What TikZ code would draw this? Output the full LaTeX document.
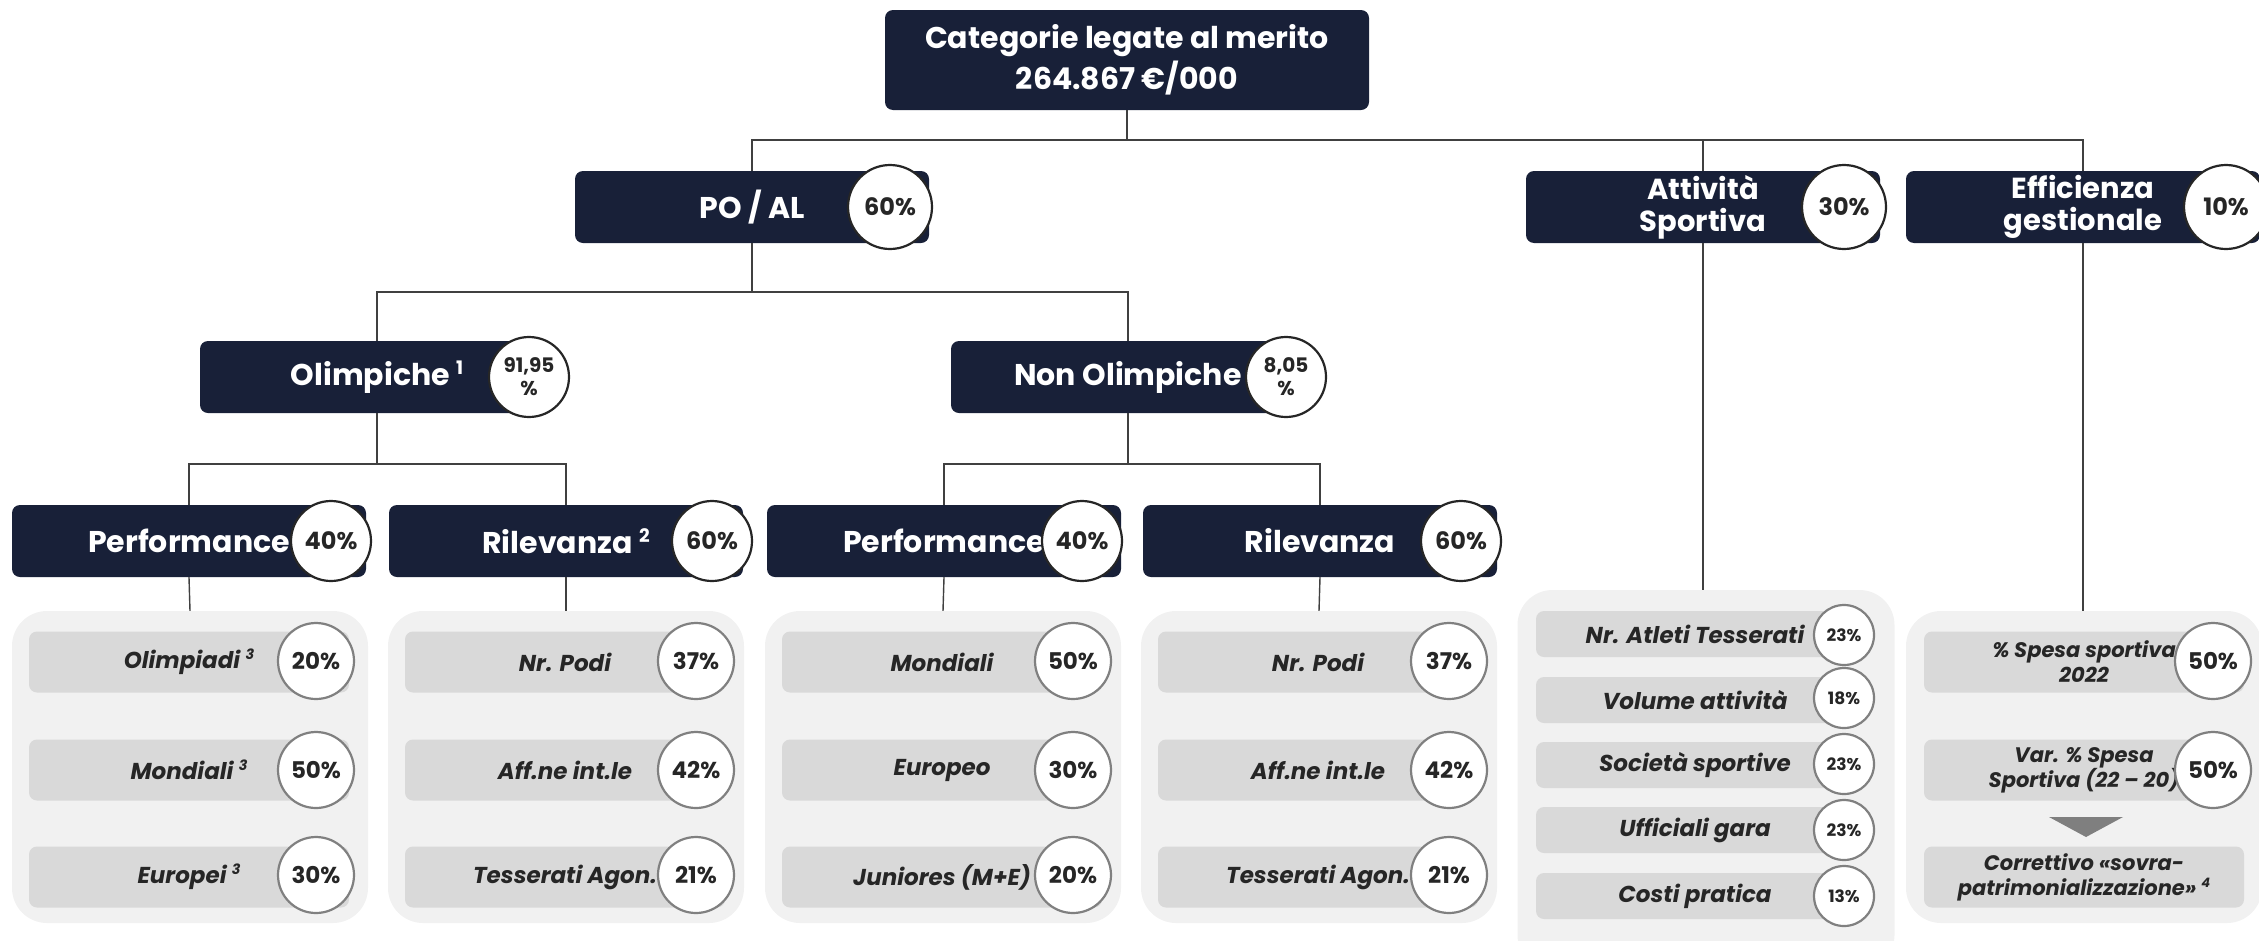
\documentclass[tikz,border=0pt]{standalone}
\usepackage{fontspec}
\setmainfont{Poppins}
\definecolor{navy}{HTML}{182038}
\definecolor{ringdark}{HTML}{262626}
\definecolor{ringgray}{HTML}{808080}
\definecolor{txtdark}{HTML}{262626}
\definecolor{panelbg}{HTML}{F1F1F1}
\definecolor{barbg}{HTML}{D9D9D9}
\definecolor{linec}{HTML}{404040}
\definecolor{arrowc}{HTML}{7F7F7F}
\newcommand\supx[1]{\ \raisebox{0.38em}{\scalebox{0.62}{#1}}}
\begin{document}
\begin{tikzpicture}[x=1pt,y=-1pt,
  hbox/.style={fill=navy, rounded corners=8pt, text=white, font=\bfseries\fontsize{30}{33}\selectfont, minimum width=354pt, minimum height=72pt, inner sep=0pt, align=center},
  pc/.style={circle, fill=white, draw=ringdark, line width=2.2pt, minimum size=82pt, inner sep=0pt, font=\bfseries\fontsize{24}{26}\selectfont, text=txtdark, align=center},
  panel/.style={fill=panelbg, rounded corners=35pt, minimum width=356pt, inner sep=0pt},
  bar/.style={fill=barbg, rounded corners=8pt, minimum height=61pt, minimum width=320pt, inner sep=0pt, font=\bfseries\itshape\fontsize{23}{27}\selectfont, text=txtdark, align=center},
  ic/.style={circle, fill=white, draw=ringgray, line width=2.2pt, minimum size=76pt, inner sep=0pt, font=\bfseries\fontsize{23}{25}\selectfont, text=txtdark},
  sbar/.style={bar, minimum height=46pt, minimum width=318pt, font=\bfseries\itshape\fontsize{23}{26}\selectfont},
  sic/.style={ic, minimum size=60pt, font=\bfseries\fontsize{17}{20}\selectfont},
  ebar/.style={bar, font=\bfseries\itshape\fontsize{21}{25}\selectfont},
  conn/.style={draw=linec, line width=1.4pt}]
\useasboundingbox (0,0) rectangle (2259,940);

\coordinate (bus0) at (1127,140);
\coordinate (bus1) at (752,292);
\coordinate (bus2) at (377,464);
\coordinate (bus3) at (1128,464);

% ---------- top ----------
\node[hbox, minimum width=484pt, minimum height=100pt, font=\bfseries\fontsize{30}{41}\selectfont] (top) at (1127,60) {Categorie legate al merito\\264.867 €/000};

% ---------- level 2 ----------
\node[hbox] (poal) at (752,207) {PO / AL};
\node[hbox, font=\bfseries\fontsize{29}{32}\selectfont] (att) at (1703,207) {Attività\\Sportiva};
\node[hbox, font=\bfseries\fontsize{29}{32}\selectfont] (eff) at (2083,207) {Efficienza\\gestionale};

% ---------- level 3 ----------
\node[hbox] (olim) at (377,377) {Olimpiche\supx{1}};
\node[hbox] (nolim) at (1128,377) {Non Olimpiche};

% ---------- level 4 ----------
\node[hbox] (perf1) at (189,541) {Performance};
\node[hbox] (ril1) at (566,541) {Rilevanza\supx{2}};
\node[hbox] (perf2) at (944,541) {Performance};
\node[hbox] (ril2) at (1320,541) {Rilevanza};

% ---------- panels ----------
\node[panel, minimum height=312pt] (p1) at (190,767) {};
\node[panel, minimum height=312pt] (p2) at (566,767) {};
\node[panel, minimum height=312pt] (p3) at (943,767) {};
\node[panel, minimum height=312pt] (p4) at (1319,767) {};
\node[panel, minimum width=377pt, minimum height=380pt] (p5) at (1706,780) {};
\node[panel, minimum height=312pt] (p6) at (2084,767) {};

% connectors
\draw[conn] (top.south) -- (bus0);
\draw[conn] (poal.north) |- (bus0);
\draw[conn] (att.north) |- (bus0);
\draw[conn] (eff.north) |- (bus0);
\draw[conn] (poal.south) -- (bus1);
\draw[conn] (olim.north) |- (bus1);
\draw[conn] (nolim.north) |- (bus1);
\draw[conn] (olim.south) -- (bus2);
\draw[conn] (perf1.north) |- (bus2);
\draw[conn] (ril1.north) |- (bus2);
\draw[conn] (nolim.south) -- (bus3);
\draw[conn] (perf2.north) |- (bus3);
\draw[conn] (ril2.north) |- (bus3);
\draw[conn] (perf1.south) -- (p1.north);
\draw[conn] (ril1.south) -- (p2.north);
\draw[conn] (perf2.south) -- (p3.north);
\draw[conn] (ril2.south) -- (p4.north);
\draw[conn] (att.south) -- (att.south |- p5.north);
\draw[conn] (eff.south) -- (eff.south |- p6.north);

% ---------- percentage circles on navy boxes ----------
\node[pc, minimum size=84pt] (cpoal) at (890,207) {60\%};
\node[pc, minimum size=84pt] (catt) at (1844,207) {30\%};
\node[pc, minimum size=84pt] (ceff) at (2226,207) {10\%};
\node[pc, minimum size=80pt, font=\bfseries\fontsize{20}{23}\selectfont] (colim) at (529,377) {91,95\\\%};
\node[pc, minimum size=80pt, font=\bfseries\fontsize{20}{23}\selectfont] (cnolim) at (1286,377) {8,05\\\%};
\node[pc, minimum size=80pt] (cperf1) at (331,541) {40\%};
\node[pc, minimum size=80pt] (cril1) at (712,541) {60\%};
\node[pc, minimum size=80pt] (cperf2) at (1082,541) {40\%};
\node[pc, minimum size=80pt] (cril2) at (1461,541) {60\%};

% ---------- panel 1 ----------
\node[bar] (a1) at (189,662) {Olimpiadi\supx{3}};
\node[bar] (a2) at (189,770) {Mondiali\supx{3}};
\node[bar] (a3) at (189,877) {Europei\supx{3}};
\node[ic] (ca1) at (316,661) {20\%};
\node[ic] (ca2) at (316,770) {50\%};
\node[ic] (ca3) at (316,875) {30\%};

% ---------- panel 2 ----------
\node[bar] (b1) at (565,662) {Nr. Podi};
\node[bar] (b2) at (565,770) {Aff.ne int.le};
\node[bar] (b3) at (565,877) {Tesserati Agon.};
\node[ic] (cb1) at (696,661) {37\%};
\node[ic] (cb2) at (696,770) {42\%};
\node[ic] (cb3) at (696,875) {21\%};

% ---------- panel 3 ----------
\node[bar] (c1) at (942,662) {Mondiali};
\node[bar] (c2) at (942,770) {Europeo};
\node[bar] (c3) at (942,877) {Juniores (M+E)};
\node[ic] (cc1) at (1073,661) {50\%};
\node[ic] (cc2) at (1073,770) {30\%};
\node[ic] (cc3) at (1073,875) {20\%};

% ---------- panel 4 ----------
\node[bar] (d1) at (1318,662) {Nr. Podi};
\node[bar] (d2) at (1318,770) {Aff.ne int.le};
\node[bar] (d3) at (1318,877) {Tesserati Agon.};
\node[ic] (cd1) at (1449,661) {37\%};
\node[ic] (cd2) at (1449,770) {42\%};
\node[ic] (cd3) at (1449,875) {21\%};

% ---------- panel 5 ----------
\node[sbar] (e1) at (1695,634) {Nr. Atleti Tesserati};
\node[sbar] (e2) at (1695,700) {Volume attività};
\node[sbar] (e3) at (1695,765) {Società sportive};
\node[sbar] (e4) at (1695,830) {Ufficiali gara};
\node[sbar] (e5) at (1695,896) {Costi pratica};
\node[sic] (ce1) at (1844,635) {23\%};
\node[sic] (ce2) at (1844,698) {18\%};
\node[sic] (ce3) at (1844,764) {23\%};
\node[sic] (ce4) at (1844,830) {23\%};
\node[sic] (ce5) at (1844,896) {13\%};

% ---------- panel 6 ----------
\node[ebar] (f1) at (2084,662) {\% Spesa sportiva\\2022};
\node[ebar] (f2) at (2084,770) {Var. \% Spesa\\Sportiva (22 – 20)};
\node[ebar] (f3) at (2084,877) {Correttivo «sovra-\\patrimonializzazione»\supx{4}};
\node[ic] (cf1) at (2213,661) {50\%};
\node[ic] (cf2) at (2213,770) {50\%};
\fill[arrowc] (2049,817) -- (2123,817) -- (2086,837) -- cycle;
\end{tikzpicture}
\end{document}
